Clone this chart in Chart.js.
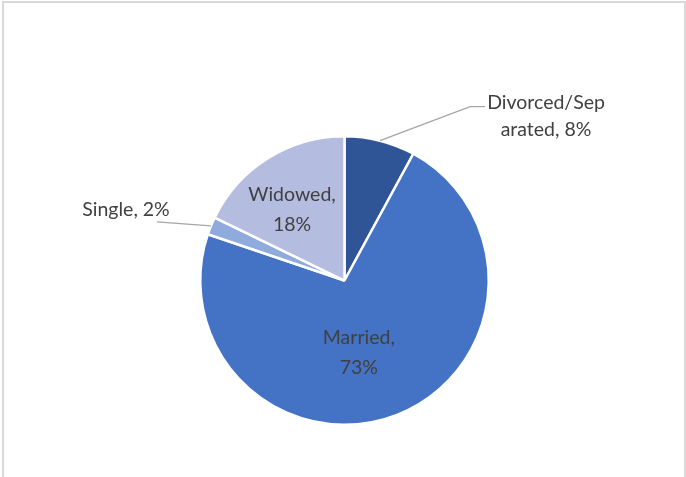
<!DOCTYPE html>
<html>
<head>
<meta charset="utf-8">
<script src="https://cdn.jsdelivr.net/npm/chart.js@4"></script>
<style>
  html, body { margin: 0; padding: 0; background: #fff; }
  #wrap { position: relative; width: 686px; height: 477px; overflow: hidden; }
  #frame { position: absolute; left: 2px; top: 1px; width: 680px; height: 500px; border: 2px solid #d9d9d9; }
  #chart { position: absolute; left: 0; top: 0; }
</style>
</head>
<body>
<div id="wrap">
  <div id="frame"></div>
  <canvas id="chart" width="686" height="477"></canvas>
</div>
<script>
// marital status shares (%)
const categories = ['Divorced/Separated', 'Married', 'Single', 'Widowed'];
const values = [8, 73, 2, 18];
const colours = ['#2f5597', '#4472c4', '#8faadc', '#b4bde0'];

// text lines for each slice label, and where it goes
const labelLines = [
  ['Divorced/Sep', 'arated, ' + values[0] + '%'],
  ['Married,', values[1] + '%'],
  ['Single, ' + values[2] + '%'],
  ['Widowed,', values[3] + '%']
];
// inside: r = fraction of radius; outside: elbow/text offsets from arc edge
const labelPlace = [
  { out: true, elbow: [90, -34], end: [15, 0], text: [76, 10], lh: 27 },
  { out: false, r: 0.5, shift: [-12, 5], lh: 30 },
  { out: true, elbow: [-54, -4], end: [0, 0], text: [-31, -12], lh: 27 },
  { out: false, r: 0.62, shift: [-5, 5], lh: 30 }
];

const sliceLabels = {
  id: 'sliceLabels',
  afterDatasetsDraw(chart) {
    const ctx = chart.ctx;
    const arcs = chart.getDatasetMeta(0).data;
    ctx.save();
    ctx.font = '19.5px Lato, sans-serif';
    ctx.fillStyle = '#404040';
    ctx.textAlign = 'center';
    ctx.textBaseline = 'middle';
    arcs.forEach((arc, i) => {
      const p = arc.getProps(['x', 'y', 'startAngle', 'endAngle', 'outerRadius']);
      const mid = (p.startAngle + p.endAngle) / 2;
      const cfg = labelPlace[i];
      const lines = labelLines[i];
      let cx, cy;
      if (cfg.out) {
        const ax = p.x + Math.cos(mid) * p.outerRadius;
        const ay = p.y + Math.sin(mid) * p.outerRadius;
        const ex = ax + cfg.elbow[0], ey = ay + cfg.elbow[1];
        ctx.strokeStyle = '#a6a6a6';
        ctx.lineWidth = 1.3;
        ctx.beginPath();
        ctx.moveTo(ax, ay);
        ctx.lineTo(ex, ey);
        ctx.lineTo(ex + cfg.end[0], ey + cfg.end[1]);
        ctx.stroke();
        cx = ex + cfg.text[0];
        cy = ey + cfg.text[1];
      } else {
        cx = p.x + Math.cos(mid) * p.outerRadius * cfg.r + cfg.shift[0];
        cy = p.y + Math.sin(mid) * p.outerRadius * cfg.r + cfg.shift[1];
      }
      const top = cy - (lines.length - 1) * cfg.lh / 2;
      lines.forEach((t, k) => ctx.fillText(t, cx, top + k * cfg.lh));
    });
    ctx.restore();
  }
};

new Chart(document.getElementById('chart'), {
  type: 'pie',
  data: {
    labels: categories,
    datasets: [{
      data: values,
      backgroundColor: colours,
      borderColor: '#ffffff',
      borderWidth: 2.5
    }]
  },
  options: {
    responsive: false,
    animation: false,
    layout: { padding: { top: 135, bottom: 51, left: 199, right: 196 } },
    plugins: {
      legend: { display: false },
      tooltip: { enabled: false }
    }
  },
  plugins: [sliceLabels]
});
</script>
</body>
</html>
